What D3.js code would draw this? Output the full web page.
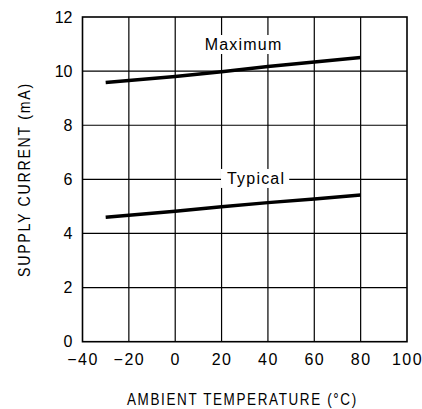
<!DOCTYPE html>
<html><head><meta charset="utf-8">
<script src="https://cdn.jsdelivr.net/npm/d3@7"></script>
<style>
body{margin:0;background:#fff;}
text{font-family:"Liberation Sans",Arial,sans-serif;fill:#000;}
</style></head>
<body><svg id="c" width="422" height="409"></svg>
<script>
const temps = [-30, 0, 20, 40, 60, 80];
const maximum = [9.58, 9.8, 9.98, 10.17, 10.34, 10.5];
const typical = [4.6, 4.82, 4.99, 5.14, 5.27, 5.42];
const xTicks = [-40, -20, 0, 20, 40, 60, 80, 100];
const yTicks = [0, 2, 4, 6, 8, 10, 12];
const seriesLabels = ["Maximum", "Typical"];

const svg = d3.select("#c");
const L = 82.5, R = 407, T = 17, B = 341.7;
const x = d3.scaleLinear().domain([-40, 100]).range([L, R]);
const y = d3.scaleLinear().domain([0, 12]).range([B, T]);

// grid
const g = svg.append("g");
g.selectAll(".vx").data(xTicks.slice(1, -1)).enter().append("line")
  .attr("x1", d => x(d)).attr("x2", d => x(d)).attr("y1", T).attr("y2", B)
  .attr("stroke", "#000").attr("stroke-width", 1.2);
g.selectAll(".hy").data(yTicks.slice(1, -1)).enter().append("line")
  .attr("x1", L).attr("x2", R).attr("y1", d => y(d)).attr("y2", d => y(d))
  .attr("stroke", "#000").attr("stroke-width", 1.2);

// frame
svg.append("rect").attr("x", L).attr("y", T).attr("width", R - L).attr("height", B - T)
  .attr("fill", "none").attr("stroke", "#000").attr("stroke-width", 1.6);

// tick labels via d3 axes
const xAxis = d3.axisBottom(x).tickValues(xTicks).tickSize(0).tickPadding(12)
  .tickFormat(d => d < 0 ? "\u2212" + Math.abs(d) : d);
const xa = svg.append("g").attr("transform", `translate(0,${B})`).call(xAxis);
xa.select(".domain").remove();
xa.selectAll("text").style("font-family", "Liberation Sans, Arial, sans-serif")
  .style("font-size", "16px").attr("letter-spacing", "1.5px");

const yAxis = d3.axisLeft(y).tickValues(yTicks).tickSize(0).tickPadding(10);
const ya = svg.append("g").attr("transform", `translate(${L},0)`).call(yAxis);
ya.select(".domain").remove();
ya.selectAll("text").style("font-family", "Liberation Sans, Arial, sans-serif")
  .style("font-size", "16px");

// lines
const line = d3.line().x((d, i) => x(temps[i])).y(d => y(d));
[maximum, typical].forEach(s => {
  svg.append("path").attr("d", line(s)).attr("fill", "none")
    .attr("stroke", "#000").attr("stroke-width", 3.5);
});

// series labels with white background
const labelPos = [{t: 29.5, v: 10.78}, {t: 34.9, v: 5.83}];
seriesLabels.forEach((lab, i) => {
  const cx = x(labelPos[i].t), cy = y(labelPos[i].v);
  const txt = svg.append("text").attr("x", cx).attr("y", cy)
    .attr("text-anchor", "middle")
    .attr("font-size", "16px").attr("letter-spacing", "1.2px").text(lab);
  const bb = txt.node().getBBox();
  svg.insert("rect", () => txt.node()).attr("x", bb.x - 6).attr("y", bb.y - 1)
    .attr("width", bb.width + 10).attr("height", bb.height + 2).attr("fill", "#fff");
});

// axis titles, fitted to the reference's lettering width
function fitted(parent, str, width) {
  const t = parent.append("text").attr("x", 0).attr("y", 0)
    .attr("font-size", "16.5px").attr("letter-spacing", "2px").text(str);
  const w = t.node().getComputedTextLength();
  t.attr("transform", `scale(${width / w},1)`);
  return t;
}
const xt = svg.append("g").attr("transform", "translate(127,405)");
fitted(xt, "AMBIENT TEMPERATURE (\u00B0C)", 231);
const yt = svg.append("g").attr("transform", "translate(30,277) rotate(-90)");
fitted(yt, "SUPPLY CURRENT (mA)", 195);
</script></body></html>
